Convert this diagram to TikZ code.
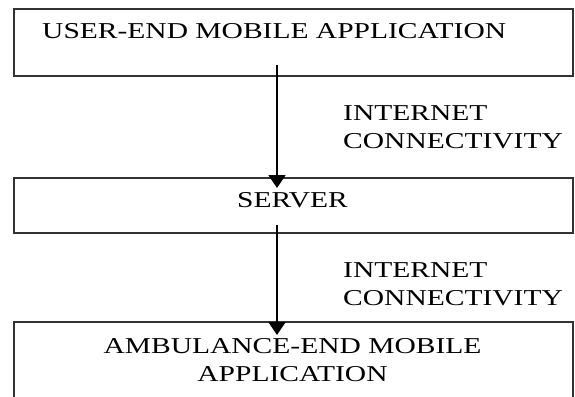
\documentclass[tikz,border=0pt]{standalone}
\usepackage{fontspec}
\setmainfont{Liberation Serif}
\usepackage{graphicx}
\usetikzlibrary{arrows.meta}
\newcommand{\wide}[1]{\scalebox{1.3}[1]{#1}}
\begin{document}
\begin{tikzpicture}[x=1pt,y=1pt,
  box/.style={draw=black!80,line width=1.3pt,minimum width=559pt,inner sep=0pt},
  txt/.style={font=\fontsize{22.7}{28}\selectfont,inner sep=0pt},
  flow/.style={line width=1.8pt,-{Triangle[width=17pt,length=13pt]}}]
  \useasboundingbox (0,0) rectangle (575,-396);
  \node[box,minimum height=67pt] (user) at (293.5,-42.5) {};
  \node[box,minimum height=55pt] (server) at (293.5,-205.5) {};
  \node[box,minimum height=90pt] (ambulance) at (293.5,-367) {};
  \node[txt,anchor=base west] (usertxt) at (42,-38) {\wide{USER-END MOBILE APPLICATION}};
  \node[txt,anchor=base] (servertxt) at (292.5,-207) {\wide{SERVER}};
  \node[txt,align=center,anchor=north] (ambtxt) at (292.5,-338) {\wide{AMBULANCE-END MOBILE}\\\wide{APPLICATION}};
  \coordinate (u1) at (277,-65);
  \coordinate (s1) at (277,-188);
  \coordinate (s2) at (277,-225);
  \coordinate (a1) at (277,-335);
  \draw[flow] (u1) -- (s1);
  \draw[flow] (s2) -- (a1);
  \node[txt,align=left,anchor=north west] (net1) at (343,-105) {\wide{INTERNET}\\\wide{CONNECTIVITY}};
  \node[txt,align=left,anchor=north west] (net2) at (343,-262) {\wide{INTERNET}\\\wide{CONNECTIVITY}};
\end{tikzpicture}
\end{document}
